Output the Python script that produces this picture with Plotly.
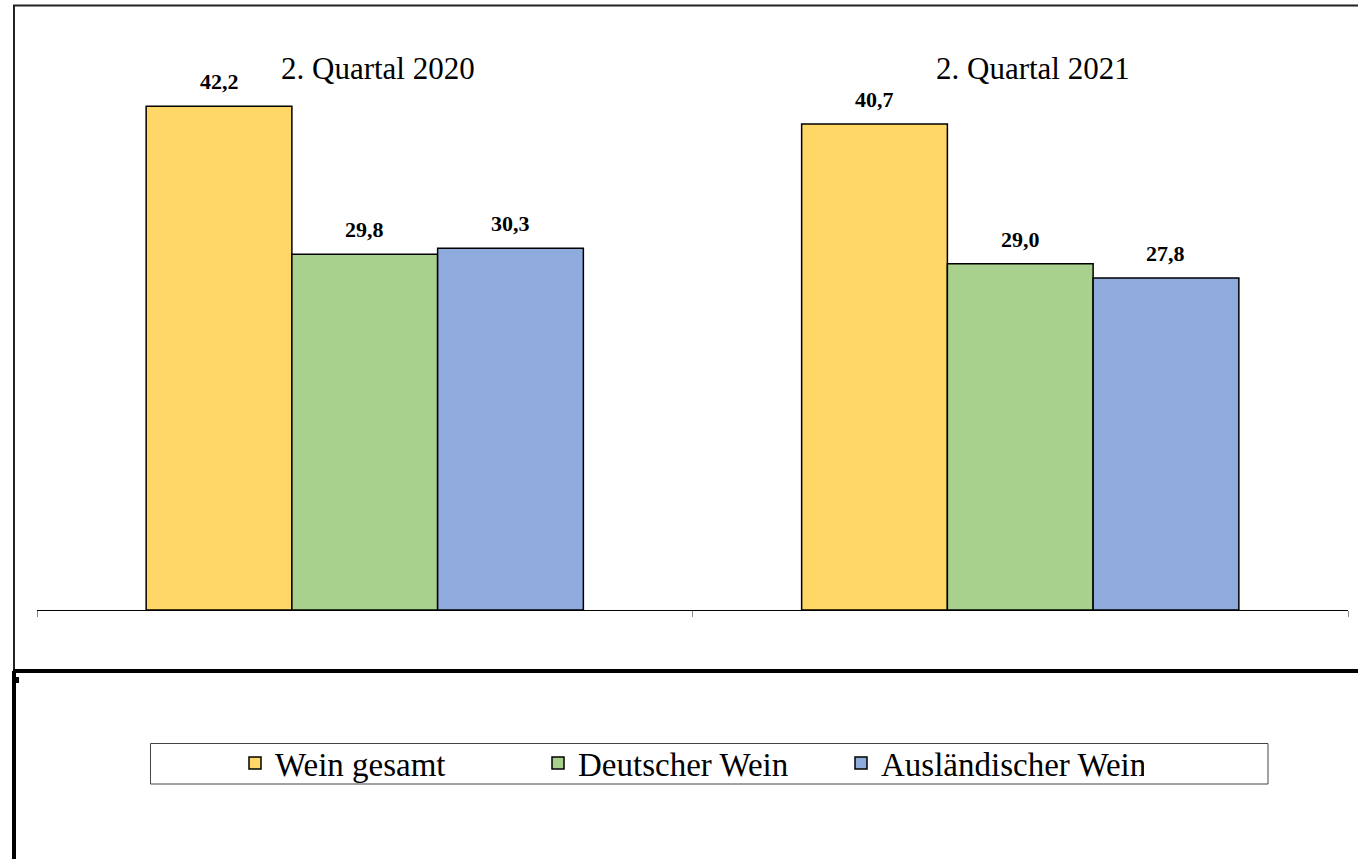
import plotly.graph_objects as go

categories = ["2. Quartal 2020", "2. Quartal 2021"]
series_names = ["Wein gesamt", "Deutscher Wein", "Ausländischer Wein"]
wein_gesamt = [42.2, 40.7]
deutscher_wein = [29.8, 29.0]
auslaendischer_wein = [30.3, 27.8]
series_values = [wein_gesamt, deutscher_wein, auslaendischer_wein]
colors = ["#FED766", "#A9D18E", "#8FAADC"]

W, H = 1358, 859
L, R, T, B = 37, 10, 13, 249
PW, PH = W - L - R, H - T - B
BARGAP = 0.333
SERIF = "Liberation Serif, Times New Roman, serif"


def px(x):
    return (x - L) / PW


def py(y):
    return (H - B - y) / PH


fig = go.Figure()
for name, vals, col in zip(series_names, series_values, colors):
    fig.add_trace(go.Bar(
        x=categories, y=vals, name=name,
        marker=dict(color=col, line=dict(color="#000000", width=1.5)),
    ))

annotations = []
n = len(series_values)
bw = (1 - BARGAP) / n
for si, vals in enumerate(series_values):
    for ci, v in enumerate(vals):
        xoff = ci - (1 - BARGAP) / 2 + bw * (si + 0.5)
        annotations.append(dict(
            x=xoff, y=v, xref="x", yref="y", text="<b>%s</b>" % f"{v:.1f}".replace(".", ","),
            showarrow=False, yanchor="bottom", yshift=10,
            font=dict(family=SERIF, size=22, color="#000000"),
        ))
for ci, c in enumerate(categories):
    annotations.append(dict(
        x=ci + 0.02, y=py(68), xref="x", yref="paper", text=c, showarrow=False,
        yanchor="middle", font=dict(family=SERIF, size=31, color="#000000"),
    ))

shapes = [
    # outer frame
    dict(type="line", xref="paper", yref="paper", x0=px(13), x1=px(1358), y0=py(5.5), y1=py(5.5),
         line=dict(color="#222222", width=2)),
    dict(type="line", xref="paper", yref="paper", x0=px(14), x1=px(14), y0=py(5), y1=py(671),
         line=dict(color="#222222", width=2)),
    dict(type="line", xref="paper", yref="paper", x0=px(13), x1=px(1358), y0=py(671), y1=py(671),
         line=dict(color="#000000", width=4)),
    dict(type="line", xref="paper", yref="paper", x0=px(14), x1=px(14), y0=py(671), y1=py(859),
         line=dict(color="#000000", width=4)),
    dict(type="rect", xref="paper", yref="paper", x0=px(14), x1=px(19), y0=py(677), y1=py(683),
         line=dict(width=0), fillcolor="#000000"),
    # legend box
    dict(type="rect", xref="paper", yref="paper", x0=px(150.5), x1=px(1268), y0=py(743.5), y1=py(784),
         line=dict(color="#444444", width=1), fillcolor="rgba(0,0,0,0)"),
]

fig.update_layout(
    width=W, height=H,
    margin=dict(l=L, r=R, t=T, b=B),
    paper_bgcolor="#FFFFFF", plot_bgcolor="#FFFFFF",
    barmode="group", bargap=BARGAP, bargroupgap=0,
    separators=",.",
    showlegend=True,
    legend=dict(
        orientation="h", x=px(235), xanchor="left", y=py(763), yanchor="middle",
        font=dict(family=SERIF, size=33, color="#000000"),
        bgcolor="rgba(0,0,0,0)", borderwidth=0,
        entrywidth=258, entrywidthmode="pixels", traceorder="normal",
    ),
    xaxis=dict(
        type="category", showticklabels=False, showgrid=False, zeroline=False,
        showline=True, linecolor="#000000", linewidth=1,
        ticks="outside", tickson="boundaries", ticklen=6, tickcolor="#888888",
    ),
    yaxis=dict(range=[0, 50], visible=False, showgrid=False, zeroline=False),
    annotations=annotations,
    shapes=shapes,
)

fig.write_html("out.html")
